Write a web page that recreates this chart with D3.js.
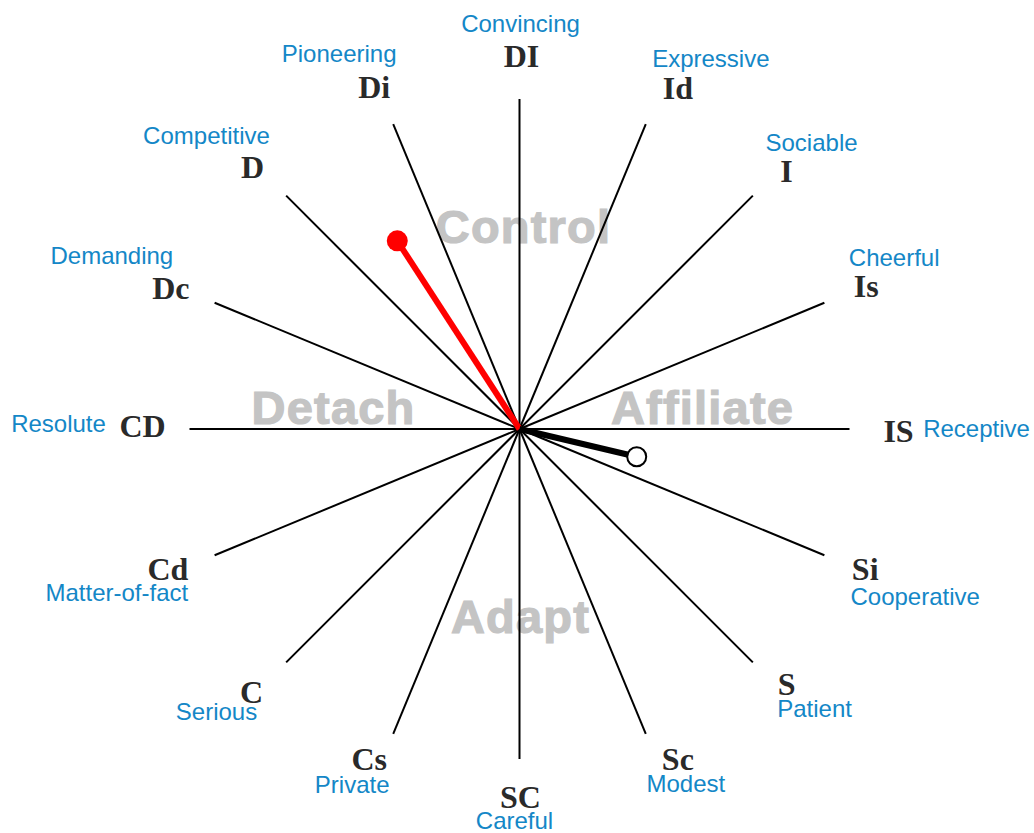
<!DOCTYPE html>
<html>
<head>
<meta charset="utf-8">
<script src="https://cdn.jsdelivr.net/npm/d3@7"></script>
<style>
  html, body { margin: 0; padding: 0; background: #ffffff; }
  svg { display: block; }
</style>
</head>
<body>
<svg id="chart" width="1034" height="833"></svg>
<script>
// ---- data ----
const codes = ["DI","Id","I","Is","IS","Si","S","Sc","SC","Cs","C","Cd","CD","Dc","D","Di"];
const descriptors = ["Convincing","Expressive","Sociable","Cheerful","Receptive","Cooperative","Patient","Modest","Careful","Private","Serious","Matter-of-fact","Resolute","Demanding","Competitive","Pioneering"];
const quadrants = ["Control","Affiliate","Adapt","Detach"];
const seriesNames = ["Natural","Adapted"];
const seriesAngles = [327, 103.3];               // degrees, clockwise from top
const seriesMagnitudes = [0.68, 0.365];          // fraction of full radius

// ---- layout (not data) ----
const cx = 519.5, cy = 429;
const R = 330;
const codeNudge = [[2,-1],[16,3],[4,6],[3,0],[7,2],[2,-2],[4,-8],[16,-13],[1,-4],[-8,-13],[-5,0],[-8,-2],[-5,-3],[-5,2],[-4,2],[-3,2]];
const descOffset = [[-1,-35],[33,-32],[25,-31],[28,-31],[78,-5],[50,25],[28,22],[8,22],[-6,21],[-17,23],[-35,17],[-51,21],[-84,-5],[-59,-35],[-46,-34],[-35,-36]];
const quadPos = [[4,-186],[183,-5],[1,204],[-186,-5]];
const seriesColors = ["#ff0000","#000000"];
const seriesFill = ["#ff0000","#ffffff"];

const svg = d3.select("#chart");
const g = svg.append("g").attr("transform", `translate(${cx},${cy})`);

const angle = d3.scaleLinear().domain([0, codes.length]).range([0, 2 * Math.PI]);
const deg = d3.scaleLinear().domain([0, 360]).range([0, 2 * Math.PI]);
const radius = d3.scaleLinear().domain([0, 1]).range([0, R]);

// watermark quadrant words
g.selectAll("text.quad").data(quadrants).join("text")
  .attr("class", "quad")
  .attr("x", (d, i) => quadPos[i][0])
  .attr("y", (d, i) => quadPos[i][1])
  .attr("text-anchor", "middle")
  .attr("font-family", "'Liberation Sans', Arial, sans-serif")
  .attr("font-weight", "bold")
  .attr("font-size", 47)
  .attr("letter-spacing", 1.2)
  .attr("fill", "#c4c4c4")
  .attr("stroke", "#c4c4c4")
  .attr("stroke-width", 1.2)
  .text(d => d);

// spokes
g.selectAll("line.spoke").data(codes).join("line")
  .attr("class", "spoke")
  .attr("x1", 0).attr("y1", 0)
  .attr("x2", (d, i) => d3.pointRadial(angle(i), radius(1))[0])
  .attr("y2", (d, i) => d3.pointRadial(angle(i), radius(1))[1])
  .attr("stroke", "#000")
  .attr("stroke-width", 2);

// code labels
const labelR = radius(1) + 42;
g.selectAll("text.code").data(codes).join("text")
  .attr("class", "code")
  .attr("x", (d, i) => d3.pointRadial(angle(i), labelR)[0] + codeNudge[i][0])
  .attr("y", (d, i) => d3.pointRadial(angle(i), labelR)[1] + codeNudge[i][1] + 10.5)
  .attr("text-anchor", "middle")
  .attr("font-family", "'Liberation Serif', 'Times New Roman', serif")
  .attr("font-weight", "bold")
  .attr("font-size", 32)
  .attr("fill", "#2a2a2a")
  .text(d => d);

// descriptor labels
g.selectAll("text.desc").data(descriptors).join("text")
  .attr("class", "desc")
  .attr("x", (d, i) => d3.pointRadial(angle(i), labelR)[0] + codeNudge[i][0] + descOffset[i][0])
  .attr("y", (d, i) => d3.pointRadial(angle(i), labelR)[1] + codeNudge[i][1] + 10.5 + descOffset[i][1])
  .attr("text-anchor", "middle")
  .attr("font-family", "'Liberation Sans', Arial, sans-serif")
  .attr("font-size", 24)
  .attr("fill", "#1487c7")
  .text(d => d);

// data series
const pts = seriesNames.map((n, i) => ({
  name: n,
  p: d3.pointRadial(deg(seriesAngles[i]), radius(seriesMagnitudes[i])),
  i
}));
g.selectAll("line.series").data(pts).join("line")
  .attr("class", "series")
  .attr("x1", 0).attr("y1", 0)
  .attr("x2", d => d.p[0]).attr("y2", d => d.p[1])
  .attr("stroke", d => seriesColors[d.i])
  .attr("stroke-width", 6);
g.selectAll("circle.series").data(pts).join("circle")
  .attr("class", "series")
  .attr("cx", d => d.p[0]).attr("cy", d => d.p[1])
  .attr("r", d => d.i === 0 ? 10.5 : 9.5)
  .attr("fill", d => seriesFill[d.i])
  .attr("stroke", d => seriesColors[d.i])
  .attr("stroke-width", d => d.i === 0 ? 0 : 2);
</script>
</body>
</html>
